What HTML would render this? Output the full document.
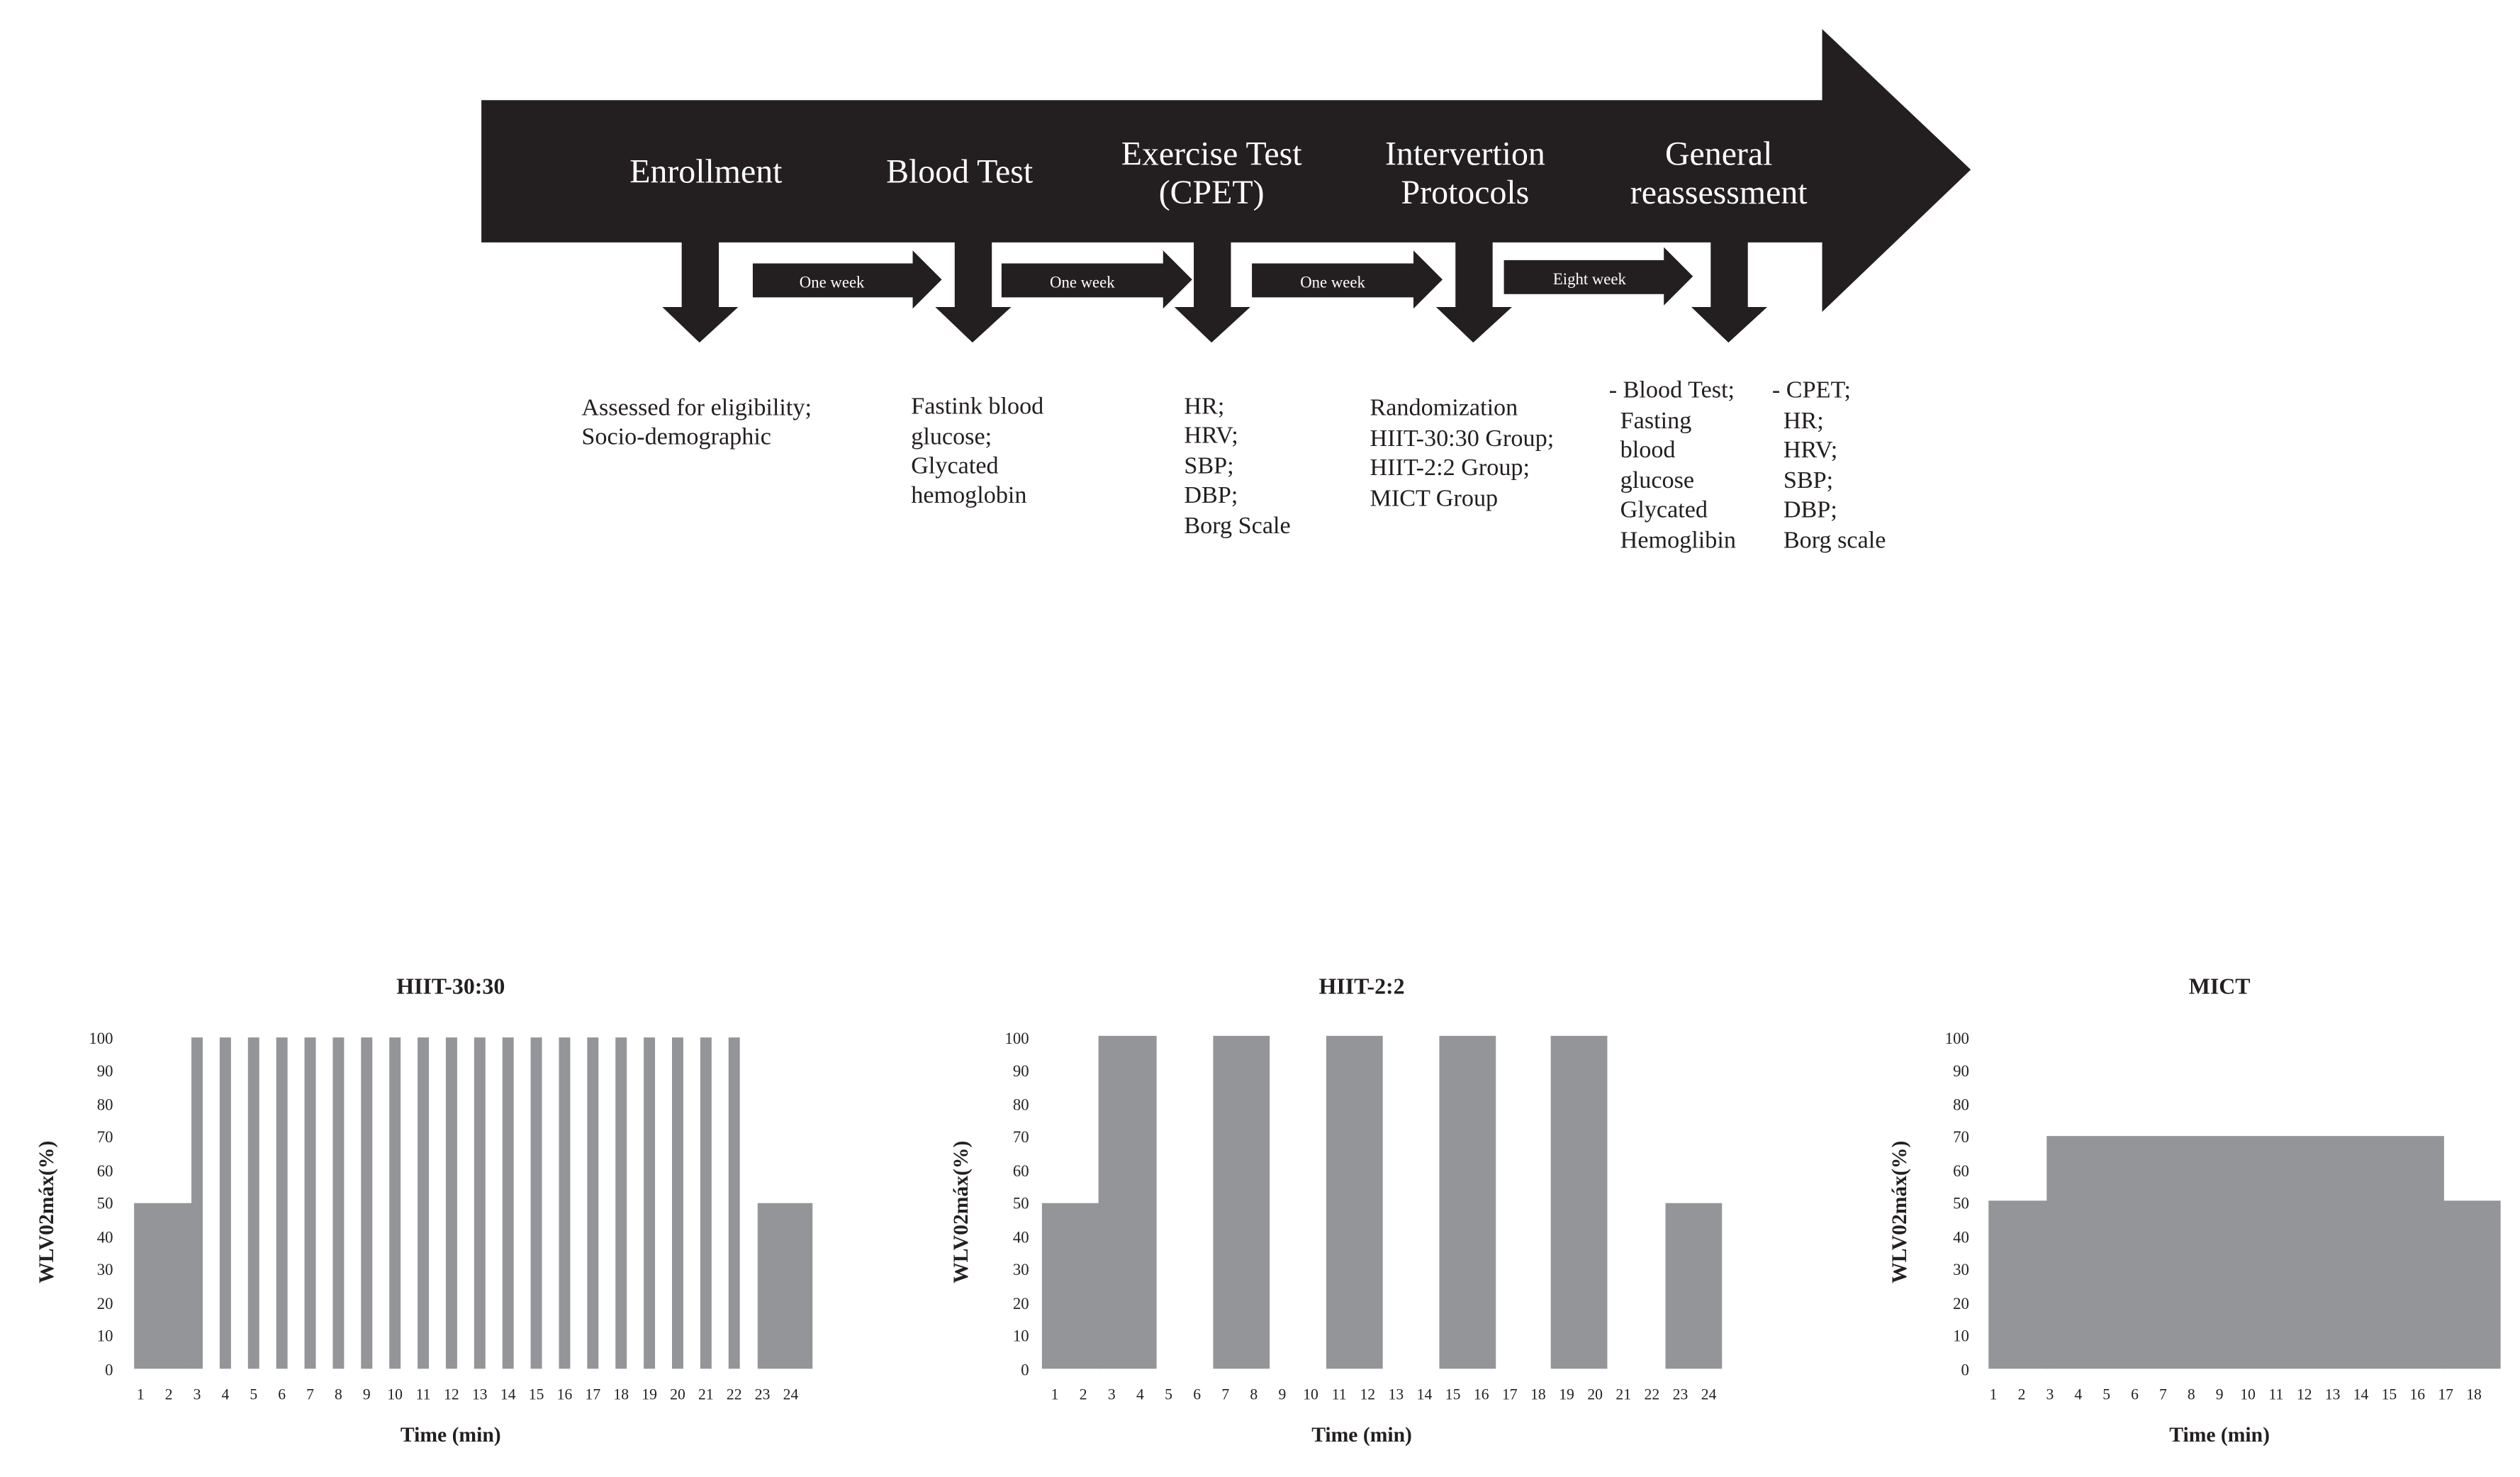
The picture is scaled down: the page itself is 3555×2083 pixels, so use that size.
<!DOCTYPE html>
<html><head><meta charset="utf-8"><style>
html,body{margin:0;padding:0;background:#fff;}
svg{display:block;}
text{font-family:"Liberation Serif",serif;}
</style></head><body>
<svg width="3555" height="2083" viewBox="0 0 1560 914" preserveAspectRatio="none" xmlns="http://www.w3.org/2000/svg">
<rect width="1560" height="914" fill="#fff"/>
<!-- big arrow -->
<polygon points="298,62 1128,62 1128,18 1220,105 1128,193 1128,150 298,150" fill="#231f20"/>
<!-- down arrows -->
<g fill="#231f20">
<polygon points="422,148 445,148 445,190 457,190 433,212 410,190 422,190"/>
<polygon points="591,148 614,148 614,190 626,190 602,212 579,190 591,190"/>
<polygon points="739,148 762,148 762,190 774,190 750,212 727,190 739,190"/>
<polygon points="901,148 924,148 924,190 936,190 912,212 889,190 901,190"/>
<polygon points="1059,148 1082,148 1082,190 1094,190 1070,212 1047,190 1059,190"/>
<!-- small arrows -->
<polygon points="466,163 565,163 565,155 583,173 565,191 565,184 466,184"/>
<polygon points="620,163 720,163 720,155 738,173 720,191 720,184 620,184"/>
<polygon points="775,163 875,163 875,155 893,173 875,191 875,184 775,184"/>
<polygon points="931,161 1030,161 1030,153 1048,171 1030,189 1030,182 931,182"/>
</g>
<g fill="#fff" font-size="10" text-anchor="middle">
<text x="515" y="178">One week</text>
<text x="670" y="178">One week</text>
<text x="825" y="178">One week</text>
<text x="984" y="176">Eight week</text>
</g>
<g fill="#fff" font-size="21" text-anchor="middle">
<text x="437" y="113">Enrollment</text>
<text x="594" y="113">Blood Test</text>
<text x="750" y="102">Exercise Test</text>
<text x="750" y="126">(CPET)</text>
<text x="907" y="102">Intervertion</text>
<text x="907" y="126">Protocols</text>
<text x="1064" y="102">General</text>
<text x="1064" y="126">reassessment</text>
</g>
<g fill="#231f20" font-size="15">
<text x="360" y="257">Assessed for eligibility;</text>
<text x="360" y="275">Socio-demographic</text>
<text x="564" y="256">Fastink blood</text>
<text x="564" y="275">glucose;</text>
<text x="564" y="293">Glycated</text>
<text x="564" y="311">hemoglobin</text>
<text x="733" y="256">HR;</text>
<text x="733" y="274">HRV;</text>
<text x="733" y="293">SBP;</text>
<text x="733" y="311">DBP;</text>
<text x="733" y="330">Borg Scale</text>
<text x="848" y="257">Randomization</text>
<text x="848" y="276">HIIT-30:30 Group;</text>
<text x="848" y="294">HIIT-2:2 Group;</text>
<text x="848" y="313">MICT Group</text>
<text x="996" y="246">- Blood Test;</text>
<text x="1003" y="265">Fasting</text>
<text x="1003" y="283">blood</text>
<text x="1003" y="302">glucose</text>
<text x="1003" y="320">Glycated</text>
<text x="1003" y="339">Hemoglibin</text>
<text x="1097" y="246">- CPET;</text>
<text x="1104" y="265">HR;</text>
<text x="1104" y="283">HRV;</text>
<text x="1104" y="302">SBP;</text>
<text x="1104" y="320">DBP;</text>
<text x="1104" y="339">Borg scale</text>
</g>

<!-- Charts -->
<g fill="#231f20" font-size="14" font-weight="bold" text-anchor="middle">
<text x="279" y="615">HIIT-30:30</text>
<text x="843" y="615">HIIT-2:2</text>
<text x="1374" y="615">MICT</text>
<text x="279" y="892" font-size="13">Time (min)</text>
<text x="843" y="892" font-size="13">Time (min)</text>
<text x="1374" y="892" font-size="13">Time (min)</text>
<text transform="translate(33,750) rotate(-90)" font-size="13">WLV02máx(%)</text>
<text transform="translate(599,750) rotate(-90)" font-size="13">WLV02máx(%)</text>
<text transform="translate(1180,750) rotate(-90)" font-size="13">WLV02máx(%)</text>
</g>
<g fill="#231f20" font-size="10" text-anchor="end">
<text x="70" y="646">100</text><text x="70" y="666">90</text><text x="70" y="687">80</text><text x="70" y="707">70</text><text x="70" y="728">60</text><text x="70" y="748">50</text><text x="70" y="769">40</text><text x="70" y="789">30</text><text x="70" y="810">20</text><text x="70" y="830">10</text><text x="70" y="851">0</text>
</g>
<g fill="#231f20" font-size="10" text-anchor="end">
<text x="637" y="646">100</text><text x="637" y="666">90</text><text x="637" y="687">80</text><text x="637" y="707">70</text><text x="637" y="728">60</text><text x="637" y="748">50</text><text x="637" y="769">40</text><text x="637" y="789">30</text><text x="637" y="810">20</text><text x="637" y="830">10</text><text x="637" y="851">0</text>
</g>
<g fill="#231f20" font-size="10" text-anchor="end">
<text x="1219" y="646">100</text><text x="1219" y="666">90</text><text x="1219" y="687">80</text><text x="1219" y="707">70</text><text x="1219" y="728">60</text><text x="1219" y="748">50</text><text x="1219" y="769">40</text><text x="1219" y="789">30</text><text x="1219" y="810">20</text><text x="1219" y="830">10</text><text x="1219" y="851">0</text>
</g>
<!-- chart1 bars -->
<g fill="#939598">
<rect x="83" y="744.5" width="36" height="102.5"/>
<rect x="118.5" y="642" width="7" height="205"/>
<rect x="136" y="642" width="7" height="205"/>
<rect x="153.5" y="642" width="7" height="205"/>
<rect x="171" y="642" width="7" height="205"/>
<rect x="188.5" y="642" width="7" height="205"/>
<rect x="206" y="642" width="7" height="205"/>
<rect x="223.5" y="642" width="7" height="205"/>
<rect x="241" y="642" width="7" height="205"/>
<rect x="258.5" y="642" width="7" height="205"/>
<rect x="276" y="642" width="7" height="205"/>
<rect x="293.5" y="642" width="7" height="205"/>
<rect x="311" y="642" width="7" height="205"/>
<rect x="328.5" y="642" width="7" height="205"/>
<rect x="346" y="642" width="7" height="205"/>
<rect x="363.5" y="642" width="7" height="205"/>
<rect x="381" y="642" width="7" height="205"/>
<rect x="398.5" y="642" width="7" height="205"/>
<rect x="416" y="642" width="7" height="205"/>
<rect x="433.5" y="642" width="7" height="205"/>
<rect x="451" y="642" width="7" height="205"/>
<rect x="469" y="744.5" width="34" height="102.5"/>
<!-- chart2 -->
<rect x="645" y="744.5" width="36" height="102.5"/>
<rect x="680" y="641" width="36" height="206"/>
<rect x="751" y="641" width="35" height="206"/>
<rect x="821" y="641" width="35" height="206"/>
<rect x="891" y="641" width="35" height="206"/>
<rect x="960" y="641" width="35" height="206"/>
<rect x="1031" y="744.5" width="35" height="102.5"/>
<!-- chart3 -->
<rect x="1231" y="743" width="37" height="104"/>
<rect x="1267" y="703" width="246" height="144"/>
<rect x="1512" y="743" width="36" height="104"/>
</g>
<g fill="#231f20" font-size="9.5" text-anchor="middle">
<text x="87" y="866">1</text><text x="104.5" y="866">2</text><text x="122" y="866">3</text><text x="139.5" y="866">4</text><text x="157" y="866">5</text><text x="174.5" y="866">6</text><text x="192" y="866">7</text><text x="209.5" y="866">8</text><text x="227" y="866">9</text><text x="244.5" y="866">10</text><text x="262" y="866">11</text><text x="279.5" y="866">12</text><text x="297" y="866">13</text><text x="314.5" y="866">14</text><text x="332" y="866">15</text><text x="349.5" y="866">16</text><text x="367" y="866">17</text><text x="384.5" y="866">18</text><text x="402" y="866">19</text><text x="419.5" y="866">20</text><text x="437" y="866">21</text><text x="454.5" y="866">22</text><text x="472" y="866">23</text><text x="489.5" y="866">24</text>
</g>
<g fill="#231f20" font-size="9.5" text-anchor="middle">
<text x="653" y="866">1</text><text x="670.6" y="866">2</text><text x="688.2" y="866">3</text><text x="705.8" y="866">4</text><text x="723.4" y="866">5</text><text x="741" y="866">6</text><text x="758.6" y="866">7</text><text x="776.2" y="866">8</text><text x="793.8" y="866">9</text><text x="811.4" y="866">10</text><text x="829" y="866">11</text><text x="846.6" y="866">12</text><text x="864.2" y="866">13</text><text x="881.8" y="866">14</text><text x="899.4" y="866">15</text><text x="917" y="866">16</text><text x="934.6" y="866">17</text><text x="952.2" y="866">18</text><text x="969.8" y="866">19</text><text x="987.4" y="866">20</text><text x="1005" y="866">21</text><text x="1022.6" y="866">22</text><text x="1040.2" y="866">23</text><text x="1057.8" y="866">24</text>
</g>
<g fill="#231f20" font-size="9.5" text-anchor="middle">
<text x="1234" y="866">1</text><text x="1251.5" y="866">2</text><text x="1269" y="866">3</text><text x="1286.5" y="866">4</text><text x="1304" y="866">5</text><text x="1321.5" y="866">6</text><text x="1339" y="866">7</text><text x="1356.5" y="866">8</text><text x="1374" y="866">9</text><text x="1391.5" y="866">10</text><text x="1409" y="866">11</text><text x="1426.5" y="866">12</text><text x="1444" y="866">13</text><text x="1461.5" y="866">14</text><text x="1479" y="866">15</text><text x="1496.5" y="866">16</text><text x="1514" y="866">17</text><text x="1531.5" y="866">18</text>
</g>
</svg>
</body></html>
